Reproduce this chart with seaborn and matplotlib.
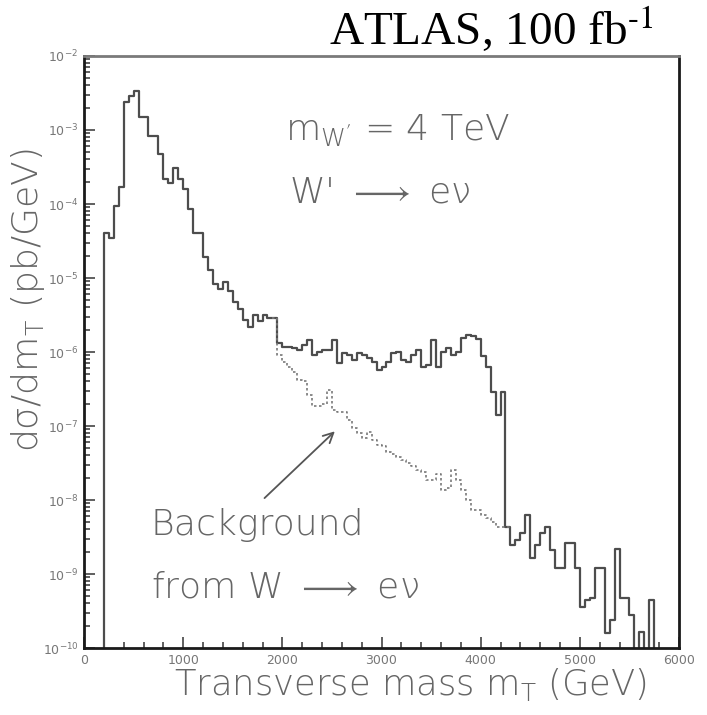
import numpy as np
import pandas as pd
import matplotlib
matplotlib.use("Agg")
import matplotlib.pyplot as plt
import seaborn as sns
from matplotlib.ticker import LogLocator, MultipleLocator, NullFormatter, FixedLocator, FixedFormatter

# ---- data: 50 GeV bins of the transverse-mass spectrum (pb/GeV) ----
bin_width = 50
signal_range = (150, 5850)
signal_values = [
    0, 4.1e-5, 3.5e-5, 9.3e-5, 1.7e-4, 2.4e-3, 2.9e-3, 3.4e-3, 1.5e-3, 1.5e-3,      # 150-600
    8.2e-4, 8.2e-4, 4.7e-4, 2.2e-4, 1.9e-4, 3.1e-4, 2.2e-4, 1.6e-4, 8.5e-5, 4.1e-5,  # 650-1100
    4.1e-5, 1.9e-5, 1.3e-5, 8.2e-6, 7.0e-6, 8.7e-6, 6.6e-6, 4.7e-6, 3.8e-6, 2.7e-6,  # 1150-1600
    2.2e-6, 3.2e-6, 2.6e-6, 3.2e-6, 2.9e-6, 2.9e-6, 1.34e-6, 1.18e-6, 1.18e-6, 1.15e-6,  # 1650-2100
    1.08e-6, 1.26e-6, 1.47e-6, 9.2e-7, 1.01e-6, 1.08e-6, 1.08e-6, 1.47e-6, 7.2e-7, 9.8e-7,  # 2150-2600
    9.2e-7, 7.9e-7, 9.8e-7, 9.2e-7, 8.4e-7, 7.4e-7, 5.8e-7, 6.2e-7, 7.4e-7, 9.8e-7,  # 2650-3100
    1.0e-6, 7.9e-7, 7.4e-7, 9.2e-7, 1.08e-6, 6.2e-7, 6.7e-7, 1.47e-6, 6.2e-7, 1.0e-6,  # 3150-3600
    1.15e-6, 9.2e-7, 1.0e-6, 1.57e-6, 1.72e-6, 1.67e-6, 1.5e-6, 8.7e-7, 6.2e-7, 2.9e-7,  # 3650-4100
    1.4e-7, 2.9e-7, 4.3e-9, 2.5e-9, 2.9e-9, 3.6e-9, 6.3e-9, 1.65e-9, 2.5e-9, 3.6e-9,  # 4150-4600
    4.3e-9, 2.1e-9, 1.2e-9, 1.2e-9, 2.6e-9, 2.6e-9, 1.2e-9, 3.6e-10, 4.5e-10, 4.7e-10,  # 4650-5100
    1.2e-9, 1.2e-9, 1.6e-10, 2.4e-10, 2.2e-9, 4.7e-10, 4.7e-10, 2.8e-10, 0, 1.65e-10,  # 5150-5600
    0, 4.5e-10, 0, 0,                                                                 # 5650-5800
]

background_range = (1900, 4300)
background_values = [
    2.9e-6, 9.2e-7, 7.4e-7, 6.2e-7, 5.4e-7, 4.2e-7, 4.0e-7, 2.65e-7, 1.88e-7, 1.85e-7,  # 1900-2350
    2.0e-7, 3.1e-7, 1.66e-7, 1.56e-7, 1.53e-7, 1.22e-7, 9.5e-8, 8.1e-8, 6.95e-8, 8.4e-8,  # 2400-2850
    6.5e-8, 5.6e-8, 5.3e-8, 4.5e-8, 4.2e-8, 3.85e-8, 3.5e-8, 3.2e-8, 2.9e-8, 2.56e-8,  # 2900-3350
    2.4e-8, 1.88e-8, 1.88e-8, 2.26e-8, 1.37e-8, 1.46e-8, 2.56e-8, 1.88e-8, 1.37e-8, 1.0e-8,  # 3400-3850
    7.4e-9, 7.4e-9, 6.3e-9, 5.7e-9, 5.1e-9, 4.3e-9, 4.3e-9, 4.3e-9,                    # 3900-4250
]

x_major_ticks = [0, 1000, 2000, 3000, 4000, 5000, 6000]
x_tick_labels = ["0", "1000", "2000", "3000", "4000", "5000", "6000"]


def bin_centers(lo, n):
    return lo + bin_width * (np.arange(n) + 0.5)


signal_df = pd.DataFrame({"mt": bin_centers(signal_range[0], len(signal_values)),
                          "xsec": signal_values})
background_df = pd.DataFrame({"mt": bin_centers(background_range[0], len(background_values)),
                              "xsec": background_values})

# ---- figure ----
sns.set_theme(style="white")
plt.rcParams["font.family"] = ["DejaVu Sans"]
plt.rcParams["mathtext.fontset"] = "dejavusans"

fig = plt.figure(figsize=(7.07, 7.15), dpi=100)
ax = fig.add_axes([84 / 707, 1 - 648 / 715, (679 - 84) / 707, (648 - 56) / 715])
ax.set_yscale("log")

line_col = "#4d4d4d"
text_col = "#666666"

sns.histplot(data=signal_df, x="mt", weights="xsec", binwidth=bin_width,
             binrange=signal_range, element="step", fill=False, color=line_col,
             linewidth=1.6, ax=ax)
sns.histplot(data=background_df, x="mt", weights="xsec", binwidth=bin_width,
             binrange=background_range, element="step", fill=False, color="#7a7a7a",
             linewidth=1.2, linestyle=(0, (1.5, 1.5)), ax=ax)

ax.set_xlim(0, 6000)
ax.set_ylim(1e-10, 1e-2)

# axes frame
for side in ["left", "bottom", "right"]:
    ax.spines[side].set_color("#1a1a1a")
    ax.spines[side].set_linewidth(2.0)
ax.spines["top"].set_color("#7a7a7a")
ax.spines["top"].set_linewidth(2.0)

ax.xaxis.set_major_locator(FixedLocator(x_major_ticks))
ax.xaxis.set_major_formatter(FixedFormatter(x_tick_labels))
ax.xaxis.set_minor_locator(MultipleLocator(200))
ax.yaxis.set_major_locator(LogLocator(base=10, numticks=20))
ax.yaxis.set_minor_locator(LogLocator(base=10, subs=np.arange(2, 10), numticks=20))
ax.yaxis.set_minor_formatter(NullFormatter())

ax.tick_params(which="both", direction="in", left=True, bottom=True, top=False, right=False,
               color="#444444", width=1.2, labelcolor="#777777")
ax.tick_params(which="major", length=8, labelsize=9, pad=4)
ax.tick_params(which="minor", length=4.5)

ax.set_xlabel(r"Transverse mass m$_\mathregular{T}$ (GeV)", fontsize=25.5, color=text_col,
              fontweight="light")
ax.set_ylabel(r"d$\mathregular{\sigma}$/dm$_\mathregular{T}$ (pb/GeV)", fontsize=26,
              color=text_col, fontweight="light")
ax.xaxis.set_label_coords(0.548, -0.030)
ax.yaxis.set_label_coords(-0.062, 0.588)

# annotations
label_kw = dict(transform=ax.transAxes, fontsize=26, color=text_col, va="baseline",
                ha="left", fontweight="light")
ax.text(0.337, 0.858, r"m$_\mathregular{W'}$ = 4 TeV", **label_kw)
ax.text(0.345, 0.752, r"W' $\mathregular{\longrightarrow}$ e$\mathregular{\nu}$", **label_kw)
ax.text(0.112, 0.191, "Background", **label_kw)
ax.text(0.112, 0.0845, r"from W $\mathregular{\longrightarrow}$ e$\mathregular{\nu}$",
        **label_kw)
ax.annotate("", xy=(2550, 9e-8), xytext=(1800, 1.0e-8),
            arrowprops=dict(arrowstyle="->,head_length=0.6,head_width=0.3",
                            color="#555555", lw=1.3))

fig.text(0.695, 0.937, r"ATLAS, 100 fb$^{\text{-1}}$", fontsize=34,
         family=["Liberation Serif"], color="black", ha="center", va="baseline",
         math_fontfamily="stix")

fig.savefig("out.png", dpi=100, facecolor="white")
